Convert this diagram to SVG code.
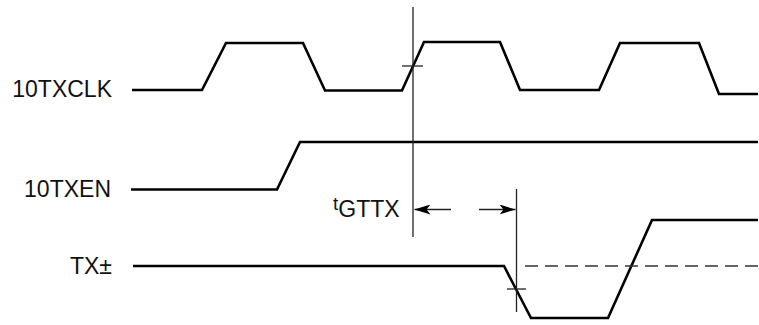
<svg xmlns="http://www.w3.org/2000/svg" width="759" height="325" viewBox="0 0 759 325">
<style>
.wave{fill:none;stroke:#000;stroke-width:2.6;stroke-linejoin:miter}
.guide{fill:none;stroke:#222;stroke-width:1.3}
.dash{fill:none;stroke:#333;stroke-width:1.5;stroke-dasharray:13 7}
.lbl{font-family:"Liberation Sans",Arial,sans-serif;font-size:23px;fill:#111}
</style>
<defs>
<marker id="ah" viewBox="0 0 16 10" refX="16" refY="5" markerWidth="16" markerHeight="10" markerUnits="userSpaceOnUse" orient="auto">
<path d="M0,0 L16,5 L0,10 L4,5 Z" fill="#000"/>
</marker>
</defs>
<rect width="759" height="325" fill="#fff"/>
<g id="label-10TXCLK"><text class="lbl" x="112" y="97" text-anchor="end">10TXCLK</text></g>
<g id="label-10TXEN"><text class="lbl" x="111" y="197" text-anchor="end">10TXEN</text></g>
<g id="label-TX"><text class="lbl" x="112" y="274" text-anchor="end">TX±</text></g>
<g id="label-tGTTX"><text class="lbl" x="333" y="217"><tspan font-size="19" dy="-7">t</tspan><tspan dy="7">GTTX</tspan></text></g>
<g id="wave-10TXCLK"><polyline class="wave" points="132,90 202,90 226,43 303,43 325,90.5 402,90.5 424,42 500,42 520,90 599,90 620,43 699,43 719,94 758,94"/></g>
<g id="wave-10TXEN"><polyline class="wave" points="131,189.5 277,189.5 300,142 758,142"/></g>
<g id="wave-TX"><polyline class="wave" points="133,266 504,266 531,318 608,318 652,220 758,220"/></g>
<g id="connectors">
<line class="guide" x1="413" y1="7" x2="413" y2="237"/>
<line class="guide" x1="402" y1="66" x2="423" y2="66"/>
<line class="guide" x1="516.5" y1="189" x2="516.5" y2="312"/>
<line class="guide" x1="507" y1="289" x2="526" y2="289"/>
<line class="dash" x1="525" y1="266" x2="758" y2="266"/>
<line class="guide" x1="451" y1="209.5" x2="414.5" y2="209.5" marker-end="url(#ah)"/>
<line class="guide" x1="479" y1="209.5" x2="515.5" y2="209.5" marker-end="url(#ah)"/>
</g>
</svg>
